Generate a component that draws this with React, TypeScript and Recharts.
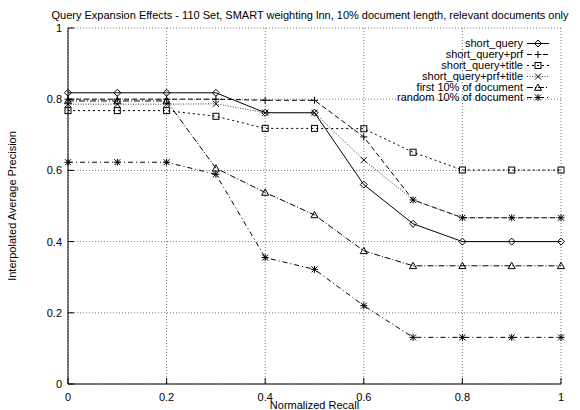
import React from "react";
import { LineChart, Line, XAxis, YAxis, CartesianGrid } from "recharts";

const recall = [0, 0.1, 0.2, 0.3, 0.4, 0.5, 0.6, 0.7, 0.8, 0.9, 1];
const shortQuery = [0.818, 0.818, 0.818, 0.818, 0.762, 0.762, 0.56, 0.45, 0.4, 0.4, 0.4];
const shortQueryPrf = [0.8, 0.8, 0.8, 0.8, 0.797, 0.797, 0.694, 0.517, 0.467, 0.467, 0.467];
const shortQueryTitle = [0.768, 0.768, 0.768, 0.752, 0.718, 0.718, 0.717, 0.651, 0.601, 0.601, 0.601];
const shortQueryPrfTitle = [0.786, 0.786, 0.786, 0.787, 0.762, 0.762, 0.629, 0.517, 0.467, 0.467, 0.467];
const first10 = [0.795, 0.795, 0.795, 0.606, 0.538, 0.475, 0.374, 0.332, 0.332, 0.332, 0.332];
const random10 = [0.623, 0.623, 0.623, 0.589, 0.355, 0.322, 0.22, 0.131, 0.131, 0.131, 0.131];

const ticks = [0, 0.2, 0.4, 0.6, 0.8, 1];

const data = recall.map((r, i) => ({
  recall: r,
  sq: shortQuery[i],
  prf: shortQueryPrf[i],
  title: shortQueryTitle[i],
  prfTitle: shortQueryPrfTitle[i],
  first: first10[i],
  random: random10[i],
}));

type Shape = "diamond" | "plus" | "square" | "cross" | "triangle" | "star";

function Marker({ shape, cx, cy, color = "#000" }: { shape: Shape; cx: number; cy: number; color?: string }) {
  const s = 3.5;
  const common = { stroke: color, strokeWidth: 1, fill: "none" };
  switch (shape) {
    case "diamond":
      return <path d={`M${cx},${cy - s}L${cx + s},${cy}L${cx},${cy + s}L${cx - s},${cy}Z`} {...common} />;
    case "plus":
      return <path d={`M${cx - s},${cy}H${cx + s}M${cx},${cy - s}V${cy + s}`} {...common} />;
    case "square":
      return <rect x={cx - 3} y={cy - 3} width={6} height={6} {...common} />;
    case "cross":
      return <path d={`M${cx - 3},${cy - 3}L${cx + 3},${cy + 3}M${cx + 3},${cy - 3}L${cx - 3},${cy + 3}`} {...common} />;
    case "triangle":
      return <path d={`M${cx},${cy - s}L${cx + s},${cy + 2.8}L${cx - s},${cy + 2.8}Z`} {...common} />;
    default:
      return (
        <path
          d={`M${cx - s},${cy}H${cx + s}M${cx},${cy - s}V${cy + s}M${cx - 3},${cy - 3}L${cx + 3},${cy + 3}M${cx + 3},${cy - 3}L${cx - 3},${cy + 3}`}
          {...common}
        />
      );
  }
}

const series: { key: string; name: string; shape: Shape; dash?: string; color: string }[] = [
  { key: "sq", name: "short_query", shape: "diamond", color: "#000" },
  { key: "prf", name: "short_query+prf", shape: "plus", dash: "5 3", color: "#000" },
  { key: "title", name: "short_query+title", shape: "square", dash: "2 3", color: "#000" },
  { key: "prfTitle", name: "short_query+prf+title", shape: "cross", dash: "1 1.5", color: "#444" },
  { key: "first", name: "first 10% of document", shape: "triangle", dash: "6 2 1 2", color: "#000" },
  { key: "random", name: "random 10% of document", shape: "star", dash: "5 3 1 3", color: "#000" },
];

const font = "'Liberation Sans', Arial, Helvetica, sans-serif";

export default function App() {
  return (
    <div
      style={{
        position: "absolute",
        left: 0,
        top: 0,
        width: 580,
        height: 410,
        background: "#fff",
        fontFamily: font,
        overflow: "hidden",
      }}
    >
      <div
        style={{
          position: "absolute",
          left: 0,
          top: 9,
          width: 620,
          textAlign: "center",
          fontSize: 11,
          lineHeight: "13px",
          whiteSpace: "nowrap",
          color: "#000",
        }}
      >
        Query Expansion Effects - 110 Set, SMART weighting lnn, 10% document length, relevant documents only
      </div>
      <div
        style={{
          position: "absolute",
          left: 12 - 100,
          top: 206 - 7,
          width: 200,
          textAlign: "center",
          fontSize: 11,
          lineHeight: "14px",
          transform: "rotate(-90deg)",
          whiteSpace: "nowrap",
          color: "#000",
        }}
      >
        Interpolated Average Precision
      </div>

      <LineChart
        width={580}
        height={410}
        data={data}
        margin={{ top: 28, right: 19, bottom: 0, left: 0 }}
        style={{ fontFamily: font }}
      >
        <CartesianGrid stroke="#777" strokeDasharray="1 2" />
        <XAxis
          dataKey="recall"
          type="number"
          domain={[0, 1]}
          ticks={ticks}
          height={26}
          tickSize={-6}
          tickMargin={15}
          axisLine={{ stroke: "#000" }}
          tickLine={{ stroke: "#000" }}
          tick={{ fill: "#000", fontSize: 11 }}
          label={{ value: "Normalized Recall", position: "insideBottom", offset: 1, fill: "#000", fontSize: 11 }}
        />
        <XAxis
          xAxisId="top"
          orientation="top"
          dataKey="recall"
          type="number"
          domain={[0, 1]}
          ticks={ticks}
          height={0}
          tickSize={-6}
          tick={false}
          axisLine={{ stroke: "#000" }}
          tickLine={{ stroke: "#000" }}
        />
        <YAxis
          type="number"
          domain={[0, 1]}
          ticks={ticks}
          width={68}
          tickSize={-6}
          tickMargin={12}
          axisLine={{ stroke: "#000" }}
          tickLine={{ stroke: "#000" }}
          tick={{ fill: "#000", fontSize: 11 }}
        />
        <YAxis
          yAxisId="right"
          orientation="right"
          type="number"
          domain={[0, 1]}
          ticks={ticks}
          width={0}
          tickSize={-6}
          tick={false}
          axisLine={{ stroke: "#000" }}
          tickLine={{ stroke: "#000" }}
        />
        {series.map((s) => (
          <Line
            key={s.key}
            type="linear"
            dataKey={s.key}
            name={s.name}
            stroke={s.color}
            strokeWidth={1}
            strokeDasharray={s.dash}
            isAnimationActive={false}
            activeDot={false}
            dot={(p: any) => <Marker key={`${s.key}-${p.index}`} shape={s.shape} cx={p.cx} cy={p.cy} />}
          />
        ))}
      </LineChart>

      <div style={{ position: "absolute", left: 300, top: 38, width: 250, fontSize: 11, color: "#000" }}>
        {series.map((s) => (
          <div
            key={s.key}
            style={{ display: "flex", justifyContent: "flex-end", alignItems: "center", height: 10.9 }}
          >
            <span style={{ lineHeight: "11px", whiteSpace: "nowrap" }}>{s.name}</span>
            <svg width={23} height={11} style={{ marginLeft: 4, overflow: "visible" }}>
              <line x1={0} y1={5.5} x2={22} y2={5.5} stroke={s.color} strokeWidth={1} strokeDasharray={s.dash} />
              <Marker shape={s.shape} cx={11} cy={5.5} />
            </svg>
          </div>
        ))}
      </div>
    </div>
  );
}
